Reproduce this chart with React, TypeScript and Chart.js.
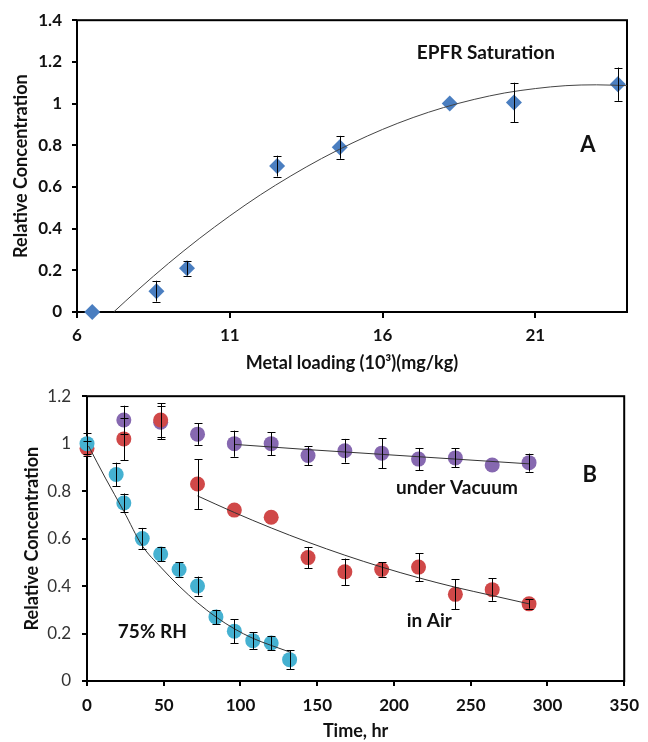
import React, { useEffect, useRef } from "react";
import { Chart, registerables } from "chart.js";

Chart.register(...registerables);

// ---- Panel A: EPFR saturation vs metal loading ----
const loadingX = [6.5, 8.6, 9.6, 12.55, 14.6, 18.2, 20.3, 23.7];
const saturationY = [0, 0.1, 0.21, 0.7, 0.79, 1.0, 1.005, 1.093];
const saturationErr = [0, 0.05, 0.035, 0.05, 0.055, 0, 0.095, 0.08];
const saturationFitX = [7.2, 8, 9, 10, 11, 12, 13, 14, 15, 16, 17, 18, 19, 20, 21, 22, 23, 24];
const saturationFitY = [0, 0.107, 0.234, 0.352, 0.461, 0.562, 0.653, 0.736, 0.81, 0.876, 0.933, 0.981, 1.02, 1.051, 1.072, 1.086, 1.09, 1.086];
const loadingTicks = [6, 11, 16, 21];

// ---- Panel B: relative concentration vs time ----
const hoursRH = [0, 19, 24, 36, 48, 60, 72, 84, 96, 108, 120, 132];
const rhY = [1.0, 0.87, 0.75, 0.6, 0.535, 0.47, 0.4, 0.27, 0.21, 0.17, 0.16, 0.09];
const rhErr = [0.045, 0.05, 0.04, 0.045, 0.03, 0.03, 0.04, 0.03, 0.05, 0.035, 0.03, 0.04];
const rhFitX = [1, 12, 24, 36, 48, 60, 72, 84, 96, 108, 120, 133];
const rhFitY = [0.99, 0.855, 0.715, 0.57, 0.48, 0.4, 0.33, 0.27, 0.22, 0.18, 0.15, 0.12];

const hoursAir = [0, 24, 48, 72, 96, 120, 144, 168, 192, 216, 240, 264, 288];
const airY = [0.98, 1.02, 1.1, 0.83, 0.72, 0.69, 0.52, 0.46, 0.47, 0.48, 0.365, 0.385, 0.325];
const airErr = [0.03, 0.09, 0.07, 0.105, 0, 0, 0.045, 0.056, 0.03, 0.059, 0.063, 0.047, 0.02];
const airFitX = [72, 96, 120, 144, 168, 192, 216, 240, 264, 288];
const airFitY = [0.78, 0.71, 0.645, 0.585, 0.53, 0.48, 0.435, 0.395, 0.36, 0.325];

const hoursVac = [24, 48, 72, 96, 120, 144, 168, 192, 216, 240, 264, 288];
const vacY = [1.1, 1.09, 1.04, 1.0, 1.0, 0.95, 0.97, 0.96, 0.935, 0.94, 0.91, 0.92];
const vacErr = [0.06, 0.07, 0.045, 0.055, 0.048, 0.04, 0.05, 0.063, 0.047, 0.04, 0, 0.038];
const vacFitX = [96, 144, 192, 240, 288];
const vacFitY = [0.997, 0.975, 0.955, 0.935, 0.915];

const FONT = "Lato";

type Note = { text: string; x: number; y: number; size: number };

const notesA: Note[] = [
  { text: "EPFR Saturation", x: 19.38, y: 1.244, size: 19 },
  { text: "A", x: 22.72, y: 0.8, size: 22 },
];
const notesB: Note[] = [
  { text: "under Vacuum", x: 241, y: 0.815, size: 19 },
  { text: "in Air", x: 223, y: 0.255, size: 19 },
  { text: "75% RH", x: 42.6, y: 0.207, size: 19 },
  { text: "B", x: 327.6, y: 0.87, size: 22 },
];

const pts = (xs: number[], ys: number[]) => xs.map((x, i) => ({ x, y: ys[i] }));
const fmt = (v: any) => String(Math.round(Number(v) * 10) / 10);

const framePlugin = {
  id: "frame",
  beforeDatasetsDraw(chart: any) {
    const { ctx, chartArea: a } = chart;
    ctx.save();
    ctx.strokeStyle = "#000";
    ctx.lineWidth = 2;
    ctx.strokeRect(a.left, a.top, a.right - a.left, a.bottom - a.top);
    ctx.restore();
  },
};

const errorBarPlugin = {
  id: "errorBars",
  afterDatasetsDraw(chart: any) {
    const { ctx } = chart;
    const xs = chart.scales.x;
    const ys = chart.scales.y;
    ctx.save();
    ctx.strokeStyle = "#000";
    ctx.lineWidth = 1;
    chart.data.datasets.forEach((ds: any) => {
      if (!ds.errorBars) return;
      ds.data.forEach((p: any, j: number) => {
        const e = ds.errorBars[j];
        if (!e) return;
        const px = Math.round(xs.getPixelForValue(p.x)) + 0.5;
        const y1 = ys.getPixelForValue(p.y + e);
        const y2 = ys.getPixelForValue(p.y - e);
        ctx.beginPath();
        ctx.moveTo(px, y1);
        ctx.lineTo(px, y2);
        ctx.moveTo(px - 4, Math.round(y1) + 0.5);
        ctx.lineTo(px + 4, Math.round(y1) + 0.5);
        ctx.moveTo(px - 4, Math.round(y2) + 0.5);
        ctx.lineTo(px + 4, Math.round(y2) + 0.5);
        ctx.stroke();
      });
    });
    ctx.restore();
  },
};

const makeNotesPlugin = (notes: Note[]) => ({
  id: "notes",
  afterDraw(chart: any) {
    const { ctx } = chart;
    const xs = chart.scales.x;
    const ys = chart.scales.y;
    ctx.save();
    ctx.fillStyle = "#111";
    ctx.textAlign = "center";
    ctx.textBaseline = "middle";
    notes.forEach((n) => {
      ctx.font = `bold ${n.size}px ${FONT}`;
      ctx.fillText(n.text, xs.getPixelForValue(n.x), ys.getPixelForValue(n.y));
    });
    ctx.restore();
  },
});

const tickGrid = (len: number) => ({
  display: true,
  drawOnChartArea: false,
  drawTicks: true,
  tickLength: len,
  color: "#000",
  lineWidth: 2,
});

export default function App() {
  const topRef = useRef<HTMLCanvasElement>(null);
  const botRef = useRef<HTMLCanvasElement>(null);

  useEffect(() => {
    const chartA = new Chart(topRef.current as HTMLCanvasElement, {
      type: "scatter",
      data: {
        datasets: [
          {
            data: pts(saturationFitX, saturationFitY),
            showLine: true,
            borderColor: "#444",
            borderWidth: 1,
            pointRadius: 0,
            cubicInterpolationMode: "monotone",
          } as any,
          {
            data: pts(loadingX, saturationY),
            pointStyle: "rectRot",
            pointRadius: 8,
            backgroundColor: "#4A7EC0",
            borderColor: "#4A7EC0",
            borderWidth: 0,
            clip: false,
            errorBars: saturationErr,
          } as any,
        ],
      },
      options: {
        responsive: false,
        animation: false,
        events: [],
        layout: { padding: { top: 16, right: 21, left: 0, bottom: 0 } },
        plugins: { legend: { display: false }, tooltip: { enabled: false } },
        scales: {
          x: {
            type: "linear",
            min: 6,
            max: 24,
            afterFit: (s: any) => {
              s.height = 63;
            },
            afterBuildTicks: (s: any) => {
              s.ticks = loadingTicks.map((v) => ({ value: v }));
            },
            grid: tickGrid(6),
            border: { display: false },
            ticks: {
              autoSkip: false,
              maxRotation: 0,
              padding: 7,
              color: "#111",
              font: { family: FONT, size: 17, weight: "bold" },
            },
            title: {
              display: true,
              text: "Metal loading (10³)(mg/kg)",
              color: "#111",
              font: { family: FONT, size: 18, weight: "bold" },
              padding: { top: 0, bottom: 1 },
            },
          },
          y: {
            min: 0,
            max: 1.4,
            afterFit: (s: any) => {
              s.width = 77;
            },
            grid: tickGrid(5),
            border: { display: false },
            ticks: {
              stepSize: 0.2,
              padding: 10,
              color: "#111",
              callback: fmt,
              font: { family: FONT, size: 17, weight: "bold" },
            },
            title: {
              display: true,
              text: "Relative Concentration",
              color: "#111",
              font: { family: FONT, size: 18, weight: "bold" },
              padding: { top: 10, bottom: 0 },
            },
          },
        },
      } as any,
      plugins: [framePlugin, errorBarPlugin, makeNotesPlugin(notesA)],
    });

    const chartB = new Chart(botRef.current as HTMLCanvasElement, {
      type: "scatter",
      data: {
        datasets: [
          {
            data: pts(rhFitX, rhFitY),
            showLine: true,
            borderColor: "#333",
            borderWidth: 1,
            pointRadius: 0,
            cubicInterpolationMode: "monotone",
          } as any,
          {
            data: pts(airFitX, airFitY),
            showLine: true,
            borderColor: "#333",
            borderWidth: 1,
            pointRadius: 0,
            cubicInterpolationMode: "monotone",
          } as any,
          {
            data: pts(vacFitX, vacFitY),
            showLine: true,
            borderColor: "#333",
            borderWidth: 1,
            pointRadius: 0,
            cubicInterpolationMode: "monotone",
          } as any,
          {
            data: pts(hoursRH, rhY),
            pointRadius: 7.5,
            backgroundColor: "#45B1D1",
            borderColor: "#45B1D1",
            borderWidth: 0,
            clip: false,
            errorBars: rhErr,
          } as any,
          {
            data: pts(hoursAir, airY),
            pointRadius: 7.5,
            backgroundColor: "#D04848",
            borderColor: "#D04848",
            borderWidth: 0,
            clip: false,
            errorBars: airErr,
          } as any,
          {
            data: pts(hoursVac, vacY),
            pointRadius: 7.5,
            backgroundColor: "#8668B0",
            borderColor: "#8668B0",
            borderWidth: 0,
            clip: false,
            errorBars: vacErr,
          } as any,
        ],
      },
      options: {
        responsive: false,
        animation: false,
        events: [],
        layout: { padding: { top: 10, right: 15, left: 0, bottom: 0 } },
        plugins: { legend: { display: false }, tooltip: { enabled: false } },
        scales: {
          x: {
            type: "linear",
            min: 0,
            max: 350,
            afterFit: (s: any) => {
              s.height = 61;
            },
            grid: tickGrid(5),
            border: { display: false },
            ticks: {
              stepSize: 50,
              autoSkip: false,
              maxRotation: 0,
              padding: 9,
              color: "#111",
              font: { family: FONT, size: 17, weight: "bold" },
            },
            title: {
              display: true,
              text: "Time, hr",
              color: "#111",
              font: { family: FONT, size: 18, weight: "bold" },
              padding: { top: 0, bottom: 0 },
            },
          },
          y: {
            min: 0,
            max: 1.2,
            afterFit: (s: any) => {
              s.width = 87;
            },
            grid: tickGrid(5),
            border: { display: false },
            ticks: {
              stepSize: 0.2,
              padding: 11,
              color: "#333",
              callback: fmt,
              font: { family: FONT, size: 17, weight: "normal" },
            },
            title: {
              display: true,
              text: "Relative Concentration",
              color: "#111",
              font: { family: FONT, size: 18, weight: "bold" },
              padding: { top: 21, bottom: 0 },
            },
          },
        },
      } as any,
      plugins: [framePlugin, errorBarPlugin, makeNotesPlugin(notesB)],
    });

    return () => {
      chartA.destroy();
      chartB.destroy();
    };
  }, []);

  return (
    <div style={{ position: "absolute", left: 0, top: 0, width: 648, height: 742, background: "#fff" }}>
      <canvas ref={topRef} width={648} height={375} style={{ position: "absolute", left: 0, top: 0 }} />
      <canvas ref={botRef} width={648} height={367} style={{ position: "absolute", left: 0, top: 375 }} />
    </div>
  );
}
